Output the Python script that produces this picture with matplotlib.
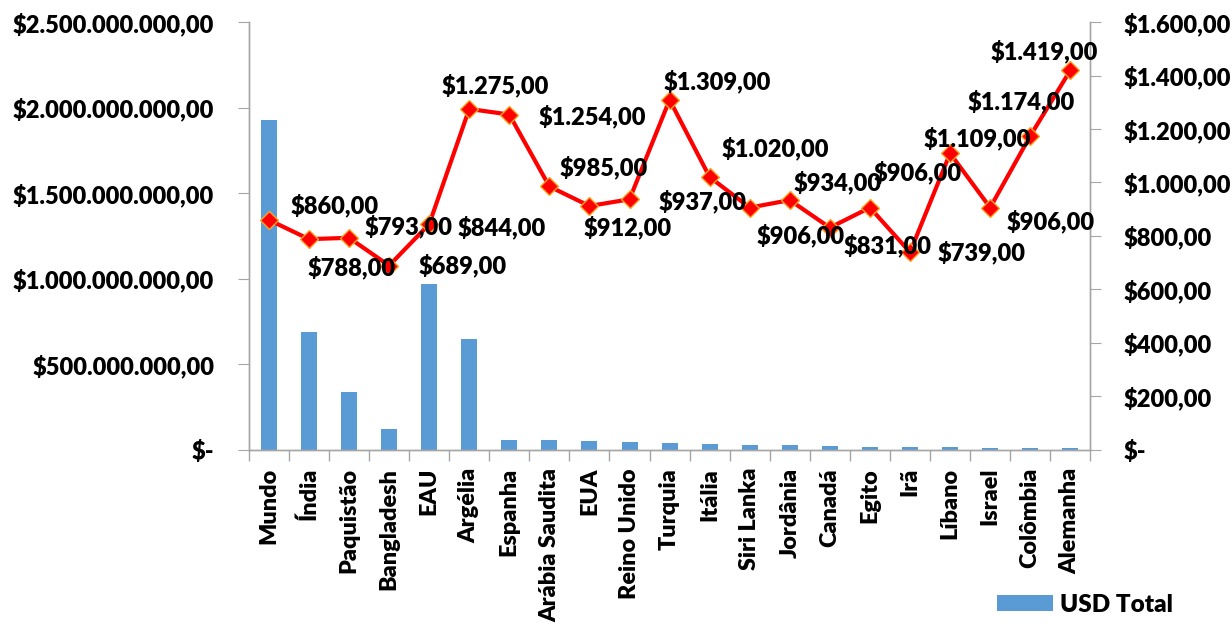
import matplotlib
matplotlib.use("Agg")
import matplotlib.pyplot as plt
from matplotlib.ticker import FuncFormatter, FixedLocator

plt.rcParams['font.family'] = ['Lato', 'DejaVu Sans']
plt.rcParams['font.weight'] = 'heavy'

# data
paises = ["Mundo", "Índia", "Paquistão", "Bangladesh", "EAU", "Argélia", "Espanha",
          "Arábia Saudita", "EUA", "Reino Unido", "Turquia", "Itália", "Siri Lanka",
          "Jordânia", "Canadá", "Egito", "Irã", "Líbano", "Israel", "Colômbia", "Alemanha"]
usd_total = [1.93e9, 0.69e9, 0.34e9, 0.123e9, 0.97e9, 0.65e9, 0.058e9,
             0.055e9, 0.053e9, 0.044e9, 0.041e9, 0.033e9, 0.031e9,
             0.030e9, 0.021e9, 0.017e9, 0.015e9, 0.015e9, 0.013e9, 0.013e9, 0.013e9]
preco = [860, 788, 793, 689, 844, 1275, 1254, 985, 912, 937, 1309, 1020, 906,
         934, 831, 906, 739, 1109, 906, 1174, 1419]

# label offsets (pixels) from each point, as placed in the original
label_dx = [66, 43, 60, 74, 73, 26, 83, 54, 38, 73, 48, 66, 51, 48, 58, 48, 72, 27, 60, -9, -26]
label_dy = [-14, 28, -11, 0, 3, -23, 2, -19, 21, 2, -18, -29, 28, -18, 18, -35, 0, -15, 14, -34, -19]


def fmt_brl(v, pos=None):
    if v == 0:
        return "$-"
    s = f"{v:,.2f}"
    s = s.replace(",", "X").replace(".", ",").replace("X", ".")
    return "$" + s


fig = plt.figure(figsize=(12.32, 6.3), dpi=100)
ax = fig.add_axes([0.202, 0.286, 0.683, 0.679])
ax2 = ax.twinx()

x = list(range(len(paises)))
ax.bar(x, usd_total, width=0.4, color="#5B9BD5", label="USD Total", zorder=2)
ax2.plot(x, preco, color="#FF0000", lw=3, marker="D", markersize=9,
         markerfacecolor="#FF0000", markeredgecolor="#F5A623", markeredgewidth=1, zorder=3)

for i, v in enumerate(preco):
    ax2.annotate(fmt_brl(v), xy=(i, v), xytext=(label_dx[i], -label_dy[i]),
                 textcoords="offset pixels", ha="center", va="center",
                 fontsize=17, fontweight="heavy", color="black")

ax.set_xlim(-0.5, len(paises) - 0.5)
ax.set_ylim(0, 2.5e9)
ax2.set_ylim(0, 1600)
ax.set_yticks([0, 0.5e9, 1.0e9, 1.5e9, 2.0e9, 2.5e9])
ax2.set_yticks(range(0, 1601, 200))
ax.yaxis.set_major_formatter(FuncFormatter(fmt_brl))
ax2.yaxis.set_major_formatter(FuncFormatter(fmt_brl))

ax.set_xticks(x)
ax.set_xticklabels(paises, rotation=90, fontsize=16.8, fontweight="heavy")
ax.tick_params(axis="x", length=0, pad=13)
ax.xaxis.set_minor_locator(FixedLocator([i - 0.5 for i in range(len(paises) + 1)]))
ax.tick_params(axis="x", which="minor", length=8, color="#A6A6A6", width=1)
ax.tick_params(axis="y", length=8, color="#A6A6A6", pad=17, labelsize=17)
ax2.tick_params(axis="y", length=8, color="#A6A6A6", pad=16, labelsize=17)
for lab in ax.get_yticklabels() + ax2.get_yticklabels():
    lab.set_fontweight("heavy")

for a in (ax, ax2):
    a.spines["top"].set_visible(False)
    for s in ("left", "right", "bottom"):
        a.spines[s].set_color("#A6A6A6")
        a.spines[s].set_linewidth(1)

fig.legend(loc="lower right", bbox_to_anchor=(0.97, -0.012), frameon=False,
           handlelength=2.3, handleheight=0.65, handletextpad=0.3,
           prop={"weight": "heavy", "size": 17.5})

fig.savefig("out.png", dpi=100)
